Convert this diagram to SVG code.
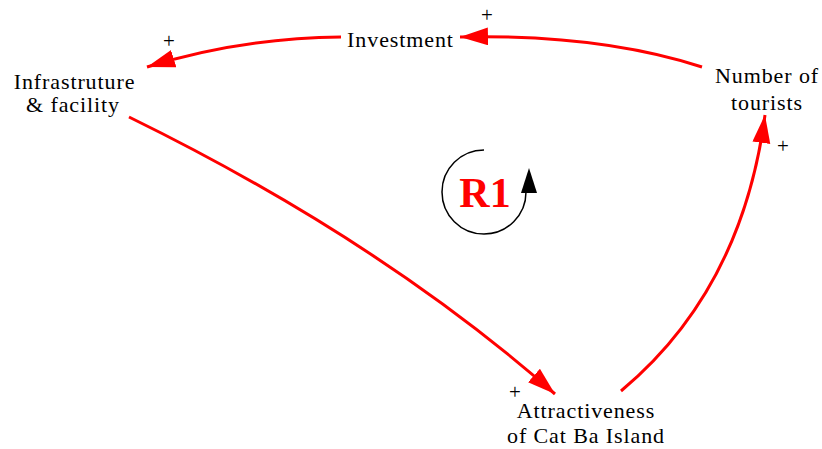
<svg xmlns="http://www.w3.org/2000/svg" width="822" height="449" viewBox="0 0 822 449">
<style>
.lbl{font-family:"Liberation Serif","Times New Roman",serif;font-size:22px;letter-spacing:0.9px;fill:#000;text-anchor:middle}
.pl{font-family:"Liberation Serif","Times New Roman",serif;font-size:21px;fill:#000;text-anchor:middle}
.lnk{fill:none;stroke:#ff0000;stroke-width:3}
</style>
<defs>
<marker id="ah" markerUnits="userSpaceOnUse" markerWidth="30" markerHeight="20" refX="28" refY="9" orient="auto">
<path d="M0,0 L28,9 L0,18 Z" fill="#ff0000"/>
</marker>
</defs>
<rect width="822" height="449" fill="#fff"/>
<g id="connectors">
<path class="lnk" d="M341,37 Q240,38 147,67" marker-end="url(#ah)"/>
<path class="lnk" d="M702,67 Q600,34 460,37" marker-end="url(#ah)"/>
<path class="lnk" d="M621,391 Q742,290 765,115" marker-end="url(#ah)"/>
<path class="lnk" d="M129,117 Q380,240 555,394" marker-end="url(#ah)"/>
<text class="pl" x="169" y="48">+</text>
<text class="pl" x="487" y="22">+</text>
<text class="pl" x="783" y="153">+</text>
<text class="pl" x="515" y="399">+</text>
</g>
<g id="loop">
<path d="M484,150 A42,42 0 1 0 526,192" fill="none" stroke="#000" stroke-width="1.5"/>
<path d="M521,193 L537,193 L529,168 Z" fill="#000"/>
<text x="485" y="207" font-family="Liberation Serif,serif" font-weight="bold" font-size="42" fill="#ff0000" text-anchor="middle">R1</text>
</g>
<g id="investment"><text class="lbl" x="400.5" y="47">Investment</text></g>
<g id="infrastructure"><text class="lbl" x="74.5" y="89">Infrastruture</text><text class="lbl" x="73" y="112">&amp; facility</text></g>
<g id="tourists"><text class="lbl" x="767" y="83">Number of</text><text class="lbl" x="767" y="110">tourists</text></g>
<g id="attractiveness"><text class="lbl" x="586" y="418">Attractiveness</text><text class="lbl" x="586" y="443">of Cat Ba Island</text></g>
</svg>
